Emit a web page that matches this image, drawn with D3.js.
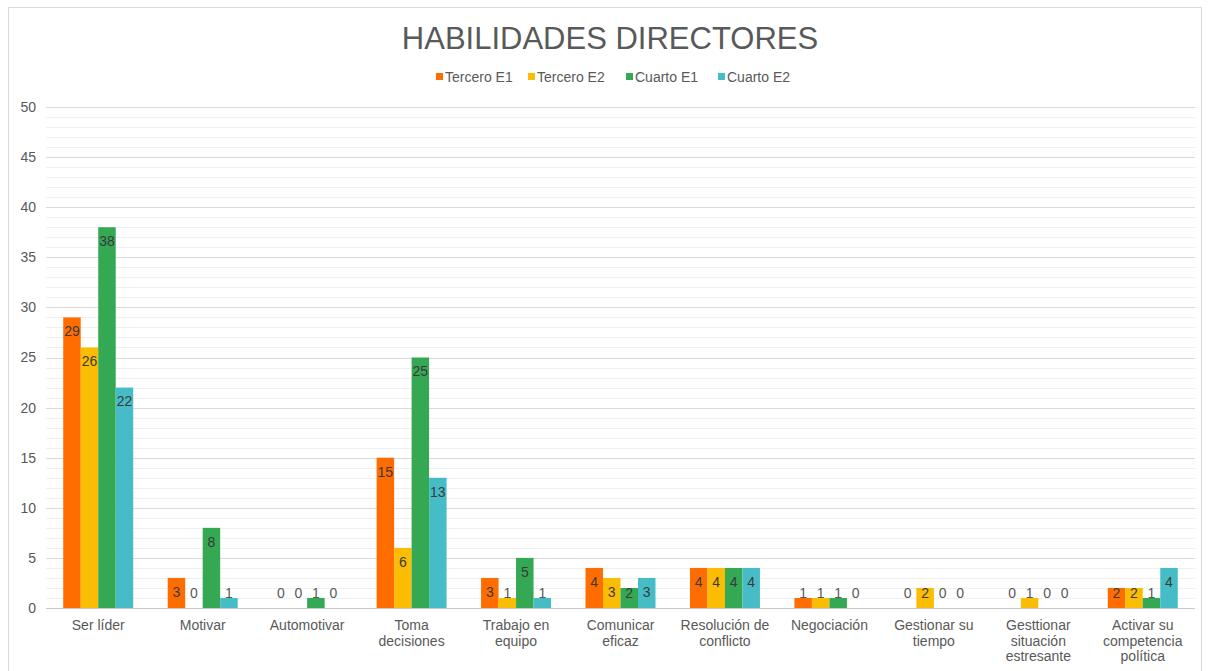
<!DOCTYPE html>
<html>
<head>
<meta charset="utf-8">
<title>HABILIDADES DIRECTORES</title>
<script src="https://d3js.org/d3.v7.min.js"></script>
<style>
    body { margin: 0; background: #fff; }
    text { font-family: "Liberation Sans", Arial, sans-serif; }
</style>
</head>
<body>
<div id="chart"></div>
<script>
// datos del grafico
var categories = ["Ser líder", "Motivar", "Automotivar", "Toma decisiones", "Trabajo en equipo",
    "Comunicar eficaz", "Resolución de conflicto", "Negociación", "Gestionar su tiempo",
    "Gesttionar situación estresante", "Activar su competencia política"]
// etiquetas partidas en lineas como en el original
var categoryLines = [["Ser líder"], ["Motivar"], ["Automotivar"], ["Toma", "decisiones"],
    ["Trabajo en", "equipo"], ["Comunicar", "eficaz"], ["Resolución de", "conflicto"],
    ["Negociación"], ["Gestionar su", "tiempo"], ["Gesttionar", "situación", "estresante"],
    ["Activar su", "competencia", "política"]]
var seriesNames = ["Tercero E1", "Tercero E2", "Cuarto E1", "Cuarto E2"]
var terceroE1 = [29, 3, 0, 15, 3, 4, 4, 1, 0, 0, 2]
var terceroE2 = [26, 0, 0, 6, 1, 3, 4, 1, 2, 1, 2]
var cuartoE1 = [38, 8, 1, 25, 5, 2, 4, 1, 0, 0, 1]
var cuartoE2 = [22, 1, 0, 13, 1, 3, 4, 0, 0, 0, 4]
var yTicks = [0, 5, 10, 15, 20, 25, 30, 35, 40, 45, 50]
var colors = ["#FF6D01", "#FBBC04", "#34A853", "#46BDC6"]

var series = [terceroE1, terceroE2, cuartoE1, cuartoE2]

var W = 1209, H = 671
var margin = {top: 107, left: 46, right: 14, bottom: 63}
var width = W - margin.left - margin.right
var height = H - margin.top - margin.bottom

var svg = d3.select("#chart").append("svg")
    .attr("width", W)
    .attr("height", H)

// marco del grafico
svg.append("path")
    .attr("d", "M8.5," + H + "V7.5H1201.5V" + H)
    .attr("fill", "none")
    .attr("stroke", "#d9d9d9")

svg.append("text")
    .attr("x", 610)
    .attr("y", 49)
    .attr("text-anchor", "middle")
    .attr("font-size", 31)
    .attr("fill", "#595959")
    .text("HABILIDADES DIRECTORES")

var g = svg.append("g")
    .attr("transform", "translate(" + margin.left + "," + margin.top + ")")

var x0 = d3.scaleBand().domain(categories).range([0, width]).paddingInner(0.33).paddingOuter(0.165)
var x1 = d3.scaleBand().domain(seriesNames).range([0, x0.bandwidth()])
var y = d3.scaleLinear().domain([0, 50]).range([height, 0])

// lineas menores
g.selectAll(".minor")
    .data(d3.range(0, 51).filter(d => d % 5 != 0))
    .enter().append("line")
    .attr("x1", 0).attr("x2", width)
    .attr("y1", d => Math.round(y(d)) + 0.5)
    .attr("y2", d => Math.round(y(d)) + 0.5)
    .attr("stroke", "#f0f0f0")

// lineas principales
g.selectAll(".major")
    .data(yTicks)
    .enter().append("line")
    .attr("x1", 0).attr("x2", width)
    .attr("y1", d => Math.round(y(d)) + 0.5)
    .attr("y2", d => Math.round(y(d)) + 0.5)
    .attr("stroke", d => d == 0 ? "#c8c8c8" : "#d9d9d9")

g.selectAll(".ytick")
    .data(yTicks)
    .enter().append("text")
    .attr("x", -10)
    .attr("y", d => y(d))
    .attr("dy", "0.35em")
    .attr("text-anchor", "end")
    .attr("font-size", 14)
    .attr("fill", "#595959")
    .text(d => d)

var groups = g.selectAll(".grp")
    .data(categories)
    .enter().append("g")
    .attr("transform", d => "translate(" + x0(d) + ",0)")

groups.selectAll("rect")
    .data((c, i) => series.map((s, k) => ({name: seriesNames[k], v: s[i], k: k})))
    .enter().append("rect")
    .attr("x", d => x1(d.name))
    .attr("width", x1.bandwidth())
    .attr("y", d => y(d.v))
    .attr("height", d => height - y(d.v))
    .attr("fill", d => colors[d.k])

groups.selectAll(".lbl")
    .data((c, i) => series.map((s, k) => ({name: seriesNames[k], v: s[i], k: k})))
    .enter().append("text")
    .attr("x", d => x1(d.name) + x1.bandwidth() / 2)
    .attr("y", d => Math.min(y(d.v) + 14, height - 15))
    .attr("dy", "0.35em")
    .attr("text-anchor", "middle")
    .attr("font-size", 14)
    .attr("fill", d => d.v >= 2 ? "#3a3a3a" : "#595959")
    .text(d => d.v)

// etiquetas del eje x
g.selectAll(".xlbl")
    .data(categories)
    .enter().append("text")
    .attr("x", d => x0(d) + x0.bandwidth() / 2)
    .attr("y", height + 22)
    .attr("text-anchor", "middle")
    .attr("font-size", 14)
    .attr("fill", "#595959")
    .each(function(d, i) {
        var t = d3.select(this)
        categoryLines[i].forEach(function(line, j) {
            t.append("tspan")
                .attr("x", x0(d) + x0.bandwidth() / 2)
                .attr("dy", j == 0 ? 0 : 15.5)
                .text(line)
        })
    })

// leyenda
var legendItems = [
    {name: "Tercero E1", x: 436},
    {name: "Tercero E2", x: 528},
    {name: "Cuarto E1", x: 626},
    {name: "Cuarto E2", x: 718}
]
var legend = svg.selectAll(".leg")
    .data(legendItems)
    .enter().append("g")
    .attr("transform", d => "translate(" + d.x + ",77)")
legend.append("rect")
    .attr("x", 0).attr("y", -4)
    .attr("width", 7).attr("height", 7)
    .attr("fill", (d, i) => colors[i])
legend.append("text")
    .attr("x", 9)
    .attr("dy", "0.35em")
    .attr("font-size", 14)
    .attr("fill", "#595959")
    .text(d => d.name)
</script>
</body>
</html>
